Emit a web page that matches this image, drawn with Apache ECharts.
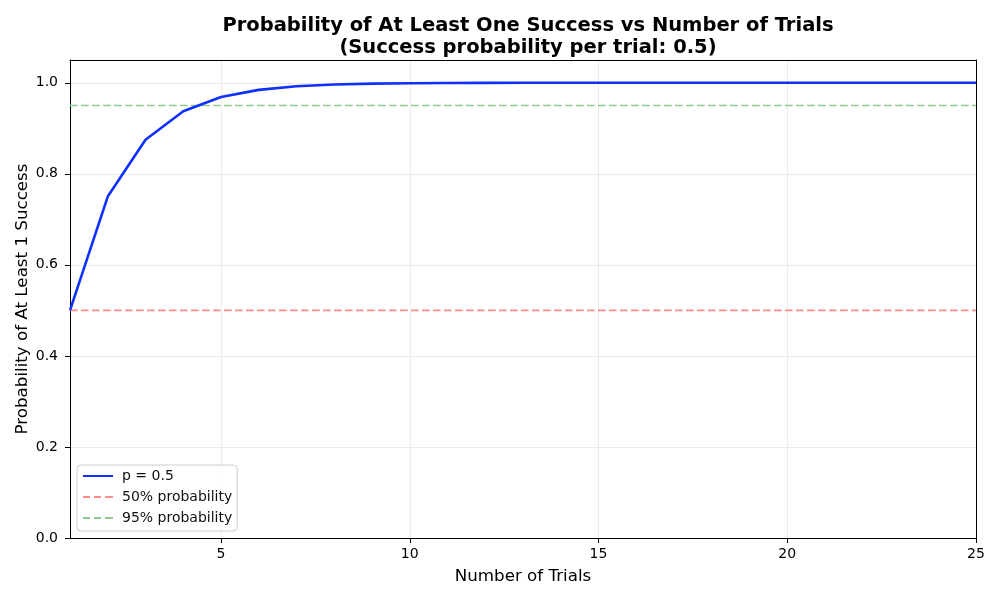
<!DOCTYPE html>
<html>
<head>
<meta charset="utf-8">
<script src="https://cdn.jsdelivr.net/npm/echarts@6/dist/echarts.min.js"></script>
<style>html,body{margin:0;padding:0;background:#fff}#c{width:1000px;height:600px}</style>
</head>
<body>
<div id="c"></div>
<script>
const trials = [1,2,3,4,5,6,7,8,9,10,11,12,13,14,15,16,17,18,19,20,21,22,23,24,25];
const probAtLeastOne = [0.5,0.75,0.875,0.9375,0.96875,0.984375,0.9921875,0.99609375,0.998046875,0.9990234375,0.99951,0.99976,0.99988,0.99994,0.99997,0.999985,0.999992,0.999996,0.999998,0.999999,1.0,1.0,1.0,1.0,1.0];
const refX = [1, 25];
const ref50 = [0.5, 0.5];
const ref95 = [0.95, 0.95];
const xTicks = [5,10,15,20,25];
const yTicks = [0,0.2,0.4,0.6,0.8,1.0];
const seriesNames = ['p = 0.5','50% probability','95% probability'];

const font = 'DejaVu Sans';
const solidIcon = 'path://M0,0h30v2h-30z';
const dashIcon = 'path://M0,0h7v2h-7z M11,0h7v2h-7z M22,0h7v2h-7z M29,0h1v2h-1z';
const frameAxis = {
  show: true,
  axisLine: {show: true, onZero: false, lineStyle: {color: '#000'}},
  axisTick: {show: false}, axisLabel: {show: false}, splitLine: {show: false}
};
const chart = echarts.init(document.getElementById('c'));
chart.setOption({
  animation: false,
  title: {
    text: 'Probability of At Least One Success vs Number of Trials\n(Success probability per trial: 0.5)',
    left: 523, textAlign: 'center', top: 10,
    textStyle: {fontFamily: font, fontSize: 19.5, fontWeight: 'bold', color: '#000', lineHeight: 22, align: 'center'}
  },
  grid: {left: 70, right: 24, top: 60, bottom: 62},
  legend: {
    orient: 'vertical', left: 77, bottom: 69,
    data: [
      {name: seriesNames[0], icon: solidIcon},
      {name: seriesNames[1], icon: dashIcon},
      {name: seriesNames[2], icon: dashIcon}
    ],
    backgroundColor: 'rgba(255,255,255,0.8)', borderColor: '#ccc', borderWidth: 1, borderRadius: 4,
    padding: [4, 5, 6, 6], itemGap: 7, itemWidth: 30, itemHeight: 2,
    textStyle: {fontFamily: font, fontSize: 14, color: '#111', padding: [0, 0, 0, 4], lineHeight: 14}
  },
  xAxis: [{
    type: 'value', min: 1, max: 25,
    name: 'Number of Trials', nameLocation: 'middle', nameGap: 30,
    nameTextStyle: {fontFamily: font, fontSize: 16.7, color: '#000'},
    axisLine: {show: true, onZero: false, lineStyle: {color: '#000'}},
    axisTick: {show: true, length: 5, lineStyle: {color: '#000'}, customValues: xTicks},
    axisLabel: {fontFamily: font, fontSize: 14, color: '#000', margin: 9, customValues: xTicks},
    splitLine: {show: true, lineStyle: {color: '#ebebeb', width: 1}}
  }, Object.assign({type: 'value', min: 1, max: 25, position: 'top'}, frameAxis)],
  yAxis: [{
    type: 'value', min: 0, max: 1.05,
    name: 'Probability of At Least 1 Success', nameLocation: 'middle', nameGap: 39,
    nameMoveOverlap: false,
    nameTextStyle: {fontFamily: font, fontSize: 16.7, color: '#000'},
    axisLine: {show: true, onZero: false, lineStyle: {color: '#000'}},
    axisTick: {show: true, length: 5, lineStyle: {color: '#000'}, customValues: yTicks},
    axisLabel: {fontFamily: font, fontSize: 14, color: '#000', margin: 12, customValues: yTicks, formatter: v => v.toFixed(1)},
    splitLine: {show: true, lineStyle: {color: '#ebebeb', width: 1}}
  }, Object.assign({type: 'value', min: 0, max: 1.05, position: 'right'}, frameAxis)],
  series: [
    {
      name: seriesNames[0], type: 'line', symbol: 'none', z: 3,
      data: trials.map((t, i) => [t, probAtLeastOne[i]]),
      lineStyle: {color: '#0f2fff', width: 2.6}, itemStyle: {color: '#0f2fff'}
    },
    {
      name: seriesNames[1], type: 'line', symbol: 'none', z: 2,
      data: refX.map((t, i) => [t, ref50[i]]),
      lineStyle: {color: '#ff8c8c', width: 1.6, type: [7.7, 3.3]}, itemStyle: {color: '#ff8c8c'}
    },
    {
      name: seriesNames[2], type: 'line', symbol: 'none', z: 2,
      data: refX.map((t, i) => [t, ref95[i]]),
      lineStyle: {color: '#8ccc8c', width: 1.6, type: [7.7, 3.3]}, itemStyle: {color: '#8ccc8c'}
    }
  ]
});
</script>
</body>
</html>
